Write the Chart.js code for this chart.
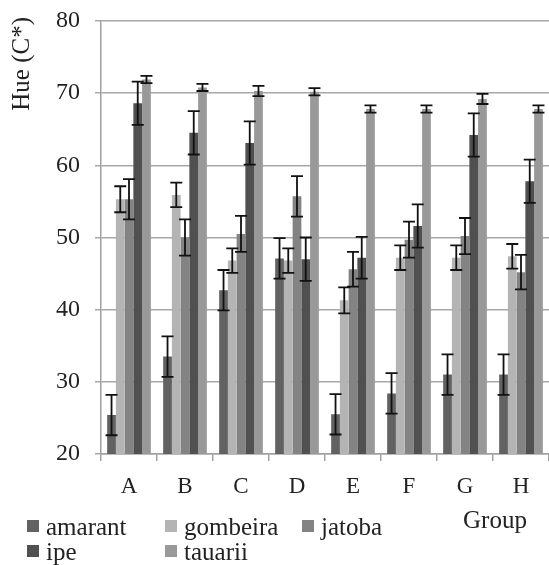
<!DOCTYPE html>
<html><head><meta charset="utf-8">
<script src="https://cdn.jsdelivr.net/npm/chart.js@4"></script>
<style>html,body{margin:0;padding:0;background:#fff}#wrap{width:549px;height:565px;position:relative}</style>
</head><body><div id="wrap"><canvas id="c" width="549" height="565"></canvas></div>
<script>
const categories = ["A","B","C","D","E","F","G","H"];
const seriesNames = ["amarant","gombeira","jatoba","ipe","tauarii"];
const amarant  = [25.4, 33.5, 42.7, 47.1, 25.5, 28.4, 31.0, 31.0];
const gombeira = [55.3, 55.9, 46.8, 46.8, 41.3, 47.2, 47.2, 47.4];
const jatoba   = [55.3, 50.0, 50.5, 55.7, 45.6, 49.7, 50.2, 45.2];
const ipe      = [68.6, 64.5, 63.1, 47.0, 47.2, 51.6, 64.2, 57.8];
const tauarii  = [71.9, 70.8, 70.3, 70.2, 67.8, 67.8, 69.2, 67.8];
const amarantErr  = [2.8, 2.8, 2.8, 2.8, 2.8, 2.8, 2.8, 2.8];
const gombeiraErr = [1.8, 1.7, 1.7, 1.7, 1.8, 1.7, 1.7, 1.7];
const jatobaErr   = [2.8, 2.5, 2.5, 2.8, 2.4, 2.5, 2.5, 2.4];
const ipeErr      = [3.0, 3.0, 3.0, 3.0, 2.9, 3.0, 3.0, 3.0];
const tauariiErr  = [0.5, 0.5, 0.7, 0.5, 0.5, 0.5, 0.7, 0.5];
const yTicks = [20,30,40,50,60,70,80];
const yTitle = "Hue (C*)";
const xTitle = "Group";

const colors = ["#626262","#b4b4b4","#838383","#505050","#999999"];
const values = [amarant, gombeira, jatoba, ipe, tauarii];
const errs = [amarantErr, gombeiraErr, jatobaErr, ipeErr, tauariiErr];
const FONT = "'Liberation Serif', serif";

const errorBars = {
  id: 'errorBars',
  afterDatasetsDraw(chart) {
    const ctx = chart.ctx, y = chart.scales.y;
    ctx.save();
    ctx.strokeStyle = '#111';
    ctx.lineWidth = 1.8;
    chart.data.datasets.forEach((ds, di) => {
      const meta = chart.getDatasetMeta(di);
      meta.data.forEach((bar, i) => {
        const v = ds.data[i], e = ds.err[i];
        const x = bar.x;
        const yt = y.getPixelForValue(v + e), yb = y.getPixelForValue(v - e);
        ctx.beginPath();
        ctx.moveTo(x, yt); ctx.lineTo(x, yb);
        ctx.moveTo(x - 6, yt); ctx.lineTo(x + 6, yt);
        ctx.moveTo(x - 6, yb); ctx.lineTo(x + 6, yb);
        ctx.stroke();
      });
    });
    ctx.restore();
  }
};

const extraText = {
  id: 'extraText',
  afterDraw(chart) {
    const ctx = chart.ctx;
    ctx.save();
    ctx.font = "25px " + FONT;
    ctx.textBaseline = 'alphabetic';
    const pos = [[27,535],[165,535],[302,535],[27,560],[165,560]];
    seriesNames.forEach((n, k) => {
      const [px, py] = pos[k];
      ctx.fillStyle = colors[k];
      ctx.fillRect(px, py - 15, 12, 12);
      ctx.fillStyle = '#222';
      ctx.fillText(n, px + 19, py);
    });
    ctx.textAlign = 'left';
    ctx.fillText(xTitle, 463, 528);
    // y title
    ctx.font = "25px " + FONT;
    ctx.translate(22, 17);
    ctx.rotate(-Math.PI / 2);
    ctx.textAlign = 'right';
    ctx.textBaseline = 'middle';
    ctx.fillText(yTitle, 0, 0);
    ctx.restore();
  }
};

function build() {
  new Chart(document.getElementById('c'), {
    type: 'bar',
    data: {
      labels: categories,
      datasets: seriesNames.map((n, i) => ({
        label: n, data: values[i], err: errs[i],
        backgroundColor: colors[i], borderWidth: 0,
        barPercentage: 1.0, categoryPercentage: 0.78
      }))
    },
    options: {
      responsive: false, animation: false,
      layout: { padding: { left: 0, right: 0, top: 0, bottom: 0 } },
      plugins: { legend: { display: false }, tooltip: { enabled: false } },
      scales: {
        x: {
          grid: { display: true, drawOnChartArea: false, color: '#a0a0a0', lineWidth: 1.5, tickLength: 7, offset: true },
          border: { color: '#a0a0a0', width: 1.5 },
          ticks: { font: { family: FONT, size: 23 }, color: '#222', padding: 12 },
          afterFit(s) { s.height = 111; }
        },
        y: {
          min: 20, max: 80,
          afterBuildTicks(s) { s.ticks = yTicks.map(v => ({ value: v })); },
          grid: { color: '#a8a8a8', lineWidth: 1.5, tickLength: 6 },
          border: { color: '#a0a0a0', width: 1.5 },
          ticks: { font: { family: FONT, size: 24, lineHeight: 0.5 }, color: '#222', padding: 15 },
          afterFit(s) { s.width = 101; }
        }
      }
    },
    plugins: [errorBars, extraText]
  });
}
if (document.fonts && document.fonts.load) {
  document.fonts.load("22px 'Liberation Serif'").then(build, build);
} else { build(); }
</script></body></html>
